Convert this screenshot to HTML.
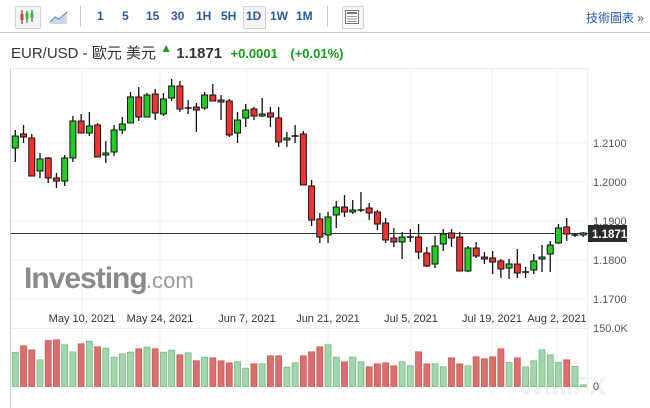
<!DOCTYPE html>
<html><head><meta charset="utf-8"><style>
body{margin:0;width:650px;height:408px;background:#fff;overflow:hidden;font-family:"Liberation Sans","Noto Sans CJK TC",sans-serif;position:relative}
.tb{position:absolute;left:0;top:0;width:650px;height:32px;border-bottom:1px solid #ccc;background:#fff}
.tb span{position:absolute;top:9px;font-size:12px;font-weight:bold;color:#2a5a9a}
.box{position:absolute;border:1px solid #d0d0d0;border-radius:2px;background:#f4f4f4}
.sep{position:absolute;top:6px;width:1px;height:21px;background:#ccc}
</style></head><body>
<div class="tb">
<div class="box" style="left:15px;top:6px;width:24px;height:21px"></div>
<svg style="position:absolute;left:18px;top:8px" width="18" height="18"><g stroke="#333" stroke-width="1"><line x1="4" y1="2" x2="4" y2="16"/><line x1="9" y1="3" x2="9" y2="15"/><line x1="14" y1="2" x2="14" y2="14"/></g><rect x="2.5" y="6" width="3" height="6" fill="#e33"/><rect x="7.5" y="5" width="3" height="6" fill="#2c2"/><rect x="12.5" y="5" width="3" height="5" fill="#2c2"/></svg>
<svg style="position:absolute;left:49px;top:9px" width="20" height="16"><path d="M1 13 L6 8 L10 10 L18 3 L18 15 L1 15Z" fill="#c9d9ea"/><path d="M1 13 L6 8 L10 10 L18 3" stroke="#5a8ac0" fill="none"/></svg>
<div class="sep" style="left:80px"></div>
<span style="left:97px">1</span><span style="left:122px">5</span><span style="left:146px">15</span><span style="left:171px">30</span><span style="left:196px">1H</span><span style="left:221px">5H</span>
<div class="box" style="left:243px;top:6px;width:21px;height:21px"></div>
<span style="left:246px">1D</span><span style="left:270px">1W</span><span style="left:296px">1M</span>
<div class="sep" style="left:327px"></div>
<div class="box" style="left:342px;top:6px;width:20px;height:21px;background:#f7f7f7"></div>
<svg style="position:absolute;left:345px;top:10px" width="14" height="14"><rect x="0.5" y="0.5" width="13" height="13" fill="#fff" stroke="#777"/><rect x="2" y="2" width="10" height="2" fill="#777"/><g stroke="#999"><line x1="2" y1="6.5" x2="12" y2="6.5"/><line x1="2" y1="9" x2="12" y2="9"/><line x1="2" y1="11.5" x2="12" y2="11.5"/></g></svg>
<span style="left:586px;font-weight:normal;font-size:12px;color:#1f5aa5">技術圖表 »</span>
</div>
<div style="position:absolute;left:11px;top:42px;font-size:15px;color:#333;white-space:nowrap">EUR/USD - 歐元 美元 <span style="color:#1a9a1a;font-size:12px;position:relative;top:-6px">&#9650;</span> <b style="font-size:15px">1.1871</b>&nbsp; <b style="color:#1a9a1a;font-size:13px">+0.0001</b>&nbsp;&nbsp; <b style="color:#1a9a1a;font-size:13px">(+0.01%)</b></div>
<svg id="c" style="position:absolute;left:0;top:0" width="650" height="408"></svg>
<script>
var s='';
s+='<line x1="10.5" y1="68" x2="10.5" y2="408" stroke="#ccc"/><line x1="10" y1="68.5" x2="588" y2="68.5" stroke="#eee"/>';
var gx=[82,160,247,328,411,492,557];
gx.forEach(function(x){s+='<line x1="'+x+'" y1="69" x2="'+x+'" y2="395" stroke="#f2f2f2"/>';});
[143,182,221,260,299].forEach(function(y){s+='<line x1="11" y1="'+y+'" x2="588" y2="'+y+'" stroke="#f2f2f2"/>';});
s+='<line x1="11" y1="328.5" x2="588" y2="328.5" stroke="#eee"/>';
s+='<line x1="587.5" y1="68" x2="587.5" y2="395" stroke="#eee"/>';
s+='<text x="24" y="288" font-size="30" font-weight="bold" fill="#8a8a8a" font-family="Liberation Sans" letter-spacing="-1">Investing</text><text x="146" y="288" font-size="22" fill="#9a9a9a" font-family="Liberation Sans">.com</text>';
s+='<text x="520" y="395" font-size="26" font-weight="bold" fill="#f2f2f2" font-family="Liberation Sans">WikiFX</text>';
var pl=['1.2100','1.2000','1.1900','1.1800','1.1700'];
[143,182,221,260,299].forEach(function(y,i){s+='<text x="593" y="'+(y+4)+'" font-size="11" fill="#555" font-family="Liberation Sans">'+pl[i]+'</text>';});
var dl=['May 10, 2021','May 24, 2021','Jun 7, 2021','Jun 21, 2021','Jul 5, 2021','Jul 19, 2021','Aug 2, 2021'];
gx.forEach(function(x,i){s+='<text x="'+x+'" y="322" font-size="11" fill="#333" text-anchor="middle" font-family="Liberation Sans">'+dl[i]+'</text>';});
s+='<text x="593" y="332" font-size="11" fill="#555" font-family="Liberation Sans">150.0K</text><text x="593" y="390" font-size="11" fill="#555" font-family="Liberation Sans">0</text>';
var d=[['g',136,148,130,162],['r',134,137,125,143],['r',138,176,134,176],['g',159,171,153,178],['r',158,178,157,183],['r',178,181,173,188],['g',158,181,155,186],['g',121,158,116,162],['r',121,133,114,133],['g',126,133,112,136],['r',125,157,123,157],['g',153,155,141,163],['g',130,152,125,156],['g',124,130,117,134],['g',97,123,92,123],['r',97,117,87,121],['g',95,117,93,117],['r',94,113,89,120],['g',99,114,93,116],['g',86,98,79,101],['r',86,109,81,112],['d',108,108,100,114],['r',107,110,103,132],['g',95,108,92,110],['r',95,101,84,101],['r',100,102,95,120],['r',101,135,99,137],['g',120,133,112,143],['g',110,118,104,127],['r',109,116,107,120],['g',114,116,98,117],['r',113,117,107,127],['r',118,142,107,147],['g',138,140,132,147],['d',136,136,125,143],['r',134,185,131,185],['r',186,220,180,226],['r',219,237,213,243],['g',217,235,212,243],['g',207,215,201,228],['r',207,212,195,217],['g',210,212,200,214],['d',210,210,192,212],['r',208,213,203,220],['r',212,224,210,230],['r',223,240,218,243],['r',238,242,228,247],['g',237,242,232,259],['d',237,237,229,242],['r',237,252,224,259],['r',253,266,247,267],['g',246,264,236,268],['g',234,244,229,251],['r',233,238,229,247],['r',237,271,232,271],['g',248,271,246,272],['r',248,256,242,258],['r',257,259,252,264],['r',258,262,251,274],['r',261,269,259,278],['g',264,268,259,279],['r',264,273,249,278],['d',272,272,267,278],['g',261,270,254,274],['g',257,259,245,272],['g',245,254,241,272],['g',228,243,224,244],['r',227,234,218,241],['d',235,235,233,237],['g',233,235,232,237]];
var vt=[158,138,150,180,122,120,135,156,132,124,141,145,172,162,157,147,142,147,157,151,165,159,183,172,174,183,189,186,205,192,192,168,168,202,189,168,156,141,135,172,186,172,186,201,192,189,198,186,198,156,192,192,201,174,192,198,171,177,171,147,188,174,201,183,150,165,188,180,200,255];
d.forEach(function(c,i){
 var x=15.3+i*8.23;
 var h=(260-vt[i])/3; if(h<1)h=1;
 var vg=c[0]!='r';
 s+='<rect x="'+(x-3)+'" y="'+(386.5-h)+'" width="6" height="'+h+'" fill="'+(vg?'#a3d6ad':'#d9706e')+'" stroke="'+(vg?'#74b883':'#c85a58')+'" stroke-width="0.8"/>';
});
s+='<line x1="11" y1="233.5" x2="588" y2="233.5" stroke="#333"/>';
d.forEach(function(c,i){
 var x=15.3+i*8.23;
 s+='<line x1="'+x+'" y1="'+c[3]+'" x2="'+x+'" y2="'+c[4]+'" stroke="#111" stroke-width="1.3"/>';
 if(c[0]=='d'){s+='<line x1="'+(x-3.5)+'" y1="'+c[1]+'" x2="'+(x+3.5)+'" y2="'+c[1]+'" stroke="#111" stroke-width="1.5"/>';}
 else{var h=Math.max(c[2]-c[1],2);s+='<rect x="'+(x-3)+'" y="'+c[1]+'" width="6" height="'+h+'" fill="'+(c[0]=='g'?'#22cc22':'#ee3333')+'" stroke="#111" stroke-width="1"/>';}
});
s+='<rect x="588" y="225" width="39" height="17" fill="#2b2b2b"/><text x="592" y="238" font-size="11.5" font-weight="bold" fill="#fff" font-family="Liberation Sans">1.1871</text>';
document.getElementById('c').innerHTML=s;
</script>
</body></html>
